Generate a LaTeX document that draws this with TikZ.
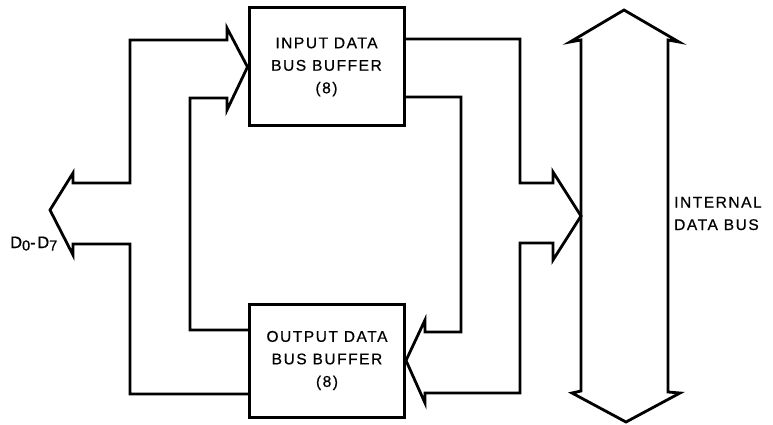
\documentclass[tikz,border=0pt]{standalone}
\usepackage{fontspec}
\setmainfont{Liberation Sans}[LetterSpace=10,FakeBold=0.6]
\begin{document}
\begin{tikzpicture}[x=1pt,y=-1pt,
  wire/.style={line width=2.8pt,line join=miter},
  bufbox/.style={draw,line width=3pt,minimum width=155pt,minimum height=118pt,
    align=center,inner sep=0pt,font=\fontsize{15.5}{22.5}\selectfont},
  lbl/.style={font=\fontsize{15.5}{22.5}\selectfont,inner sep=0pt}]
\useasboundingbox (0,0) rectangle (773,425);
\node[bufbox] (inbox) at (326.5,67) {INPUT DATA\\BUS BUFFER\\(8)};
\node[bufbox,minimum height=113pt] (outbox) at (327,360.5) {OUTPUT DATA\\BUS BUFFER\\(8)};
% internal data bus
\coordinate (bus) at (581,216);
\draw[wire] (581,40) -- (570,42) -- (624,10) -- (679,42) -- (668,40) -- (668,392)
  -- (680,393) -- (626,422) -- (572,393) -- (581,391) -- cycle;
\node[lbl,align=left,anchor=west] (buslbl) at (674,213.5) {INTERNAL\\DATA BUS};
% left double line: output buffer -> D0-D7 -> input buffer
\coordinate (dtip) at (50,210);
\draw[wire] ([yshift=-33.5pt]outbox.west) -- (130,394) -- (130,244) -- (73,244) -- (73,255)
  -- (dtip) -- (73,173) -- (73,183) -- (130,183) -- (130,40) -- (227,40) -- (227,28)
  -- (inbox.west) -- (227,110) -- (227,98) -- (190,98) -- (190,330) -- ([yshift=30.5pt]outbox.west);
\node[lbl,anchor=base west,font=\fontsize{16.5}{20}\selectfont] (dlbl) at (10,248) {D\raisebox{-2.5pt}{\fontsize{14.5}{14.5}\selectfont 0}-D\raisebox{-2.5pt}{\fontsize{14.5}{14.5}\selectfont 7}};
% right double line: input buffer -> internal bus -> output buffer
\draw[wire] ([yshift=28pt]inbox.east) -- (520,39) -- (520,183) -- (553,183) -- (553,172)
  -- (bus) -- (553,260) -- (553,243) -- (520,243) -- (520,393) -- (425,393) -- (425,403)
  -- (outbox.east) -- (425,320) -- (425,332) -- (461,332) -- (461,97) -- ([yshift=-30pt]inbox.east);
\end{tikzpicture}
\end{document}
